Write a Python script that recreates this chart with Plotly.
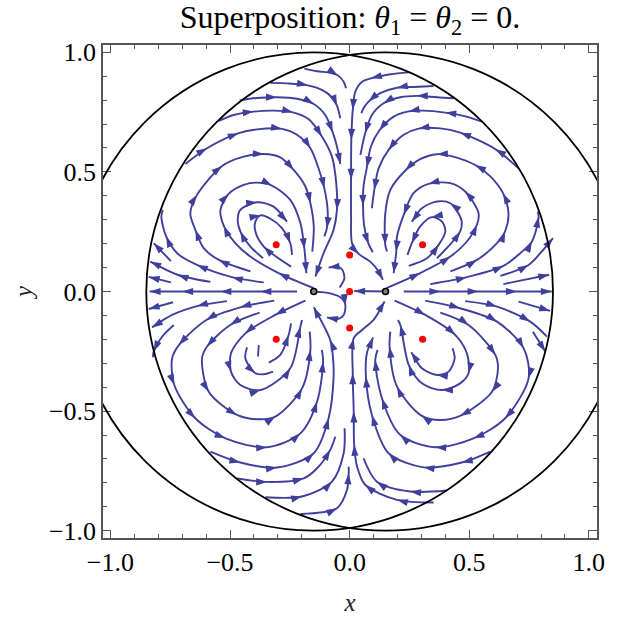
import math
import plotly.graph_objects as go

# circle centres (black points), unit radius
centers_x = [-0.15, 0.15]
centers_y = [0.0, 0.0]
circle_radius = 1.0
# red charges
red_x = [-0.307, 0.305, -0.307, 0.305, 0.0, 0.0, 0.0]
red_y = [0.195, 0.195, -0.2, -0.2, 0.153, 0.0, -0.153]

# streamlines in flow order; *_t = indices of points carrying an arrow tip
a1_x = [-.189,-.136,-.081,-.050,-.025,-.015]
a1_y = [.932,.921,.914,.904,.877,.850]
a1_t = [3]
a2_x = [-.331,-.262,-.175,-.116,-.074,-.053,-.039]
a2_y = [.872,.870,.862,.843,.812,.777,.724]
a2_t = [2,5]
a3_x = [-.460,-.387,-.304,-.220,-.150,-.102,-.071,-.053,-.039]
a3_y = [.799,.809,.812,.806,.784,.738,.666,.606,.533]
a3_t = [2,4,6,8]
a4_x = [-.547,-.485,-.401,-.318,-.237,-.171,-.116,-.074,-.056,-.053,-.067,-.109,-.143]
a4_y = [.713,.738,.752,.756,.749,.720,.648,.564,.453,.341,.258,.160,.063]
a4_t = [2,4,6,9,12]
a5_x = [-.687,-.596,-.464,-.387,-.283,-.220,-.164,-.130,-.106,-.092,-.095,-.106]
a5_y = [.533,.599,.662,.678,.680,.655,.599,.515,.432,.341,.265,.230]
a5_t = [1,2,4,6,8,10]
a6_x = [-.415,-.547,-.610,-.645,-.666,-.638,-.533,-.443,-.359,-.290,-.234,-.185,-.164,-.150,-.156]
a6_y = [.084,.132,.181,.258,.327,.404,.525,.564,.575,.561,.508,.439,.369,.272,.167]
a6_t = [1,3,5,6,8,10,12]
a7_x = [-.150,-.297,-.415,-.478,-.526,-.540,-.506,-.443,-.387,-.325,-.248,-.206,-.189,-.181]
a7_y = [.014,.077,.146,.202,.274,.341,.408,.446,.455,.443,.383,.286,.177,.077]
a7_t = [1,4,6,9,12,13]
a8_x = [-.362,-.415,-.457,-.468,-.457,-.387,-.318,-.262]
a8_y = [.139,.188,.251,.299,.341,.373,.355,.292]
a8_t = [2,5,7]
a9_x = [-.245,-.359,-.394,-.394,-.373,-.331,-.283,-.248,-.241]
a9_y = [.104,.188,.251,.292,.318,.304,.265,.202,.153]
a9_t = [1,4,7]
a10_x = [-.359,-.492,-.638,-.721,-.767,-.787,-.781]
a10_y = [.038,.060,.111,.160,.230,.313,.341]
a10_t = [1,2,4]
a11_x = [-.582,-.719,-.833]
a11_y = [.040,.070,.125]
a11_t = [1,2]
a12_x = [-.747,-.819]
a12_y = [.127,.202]
a12_t = [1]
a13_x = [-.747,-.840]
a13_y = [.038,.061]
a13_t = [1]
a14_x = [-.220,-.373,-.540,-.700,-.836]
a14_y = [0,0,0,0,0]
a14_t = [1,2,3,4]

b1_x = [.247,.170,.089,.052,.024,.013,.007,.006,.006,.010,.038,.086,.121,.139]
b1_y = [.916,.908,.891,.877,.836,.759,.634,.467,.299,.202,.157,.125,.084,.049]
b1_t = [2,5,6,7,10,13]
b2_x = [.351,.267,.198,.128,.079,.058,.049]
b2_y = [.859,.855,.852,.829,.794,.766,.745]
b2_t = [2,4]
b3_x = [.435,.365,.281,.212,.142,.093,.065,.045]
b3_y = [.808,.812,.818,.812,.787,.738,.662,.571]
b3_t = [2,4,6]
b4_x = [.553,.476,.400,.309,.247,.184,.124,.089,.072,.058,.056,.061,.079,.097]
b4_y = [.710,.734,.748,.756,.753,.731,.673,.606,.519,.439,.358,.272,.199,.164]
b4_t = [2,4,6,8,10,12]
b5_x = [.706,.609,.462,.379,.288,.226,.163,.121,.103,.093]
b5_y = [.515,.595,.664,.682,.681,.655,.592,.515,.425,.348]
b5_t = [1,2,4,6,8]
b6_x = [.421,.532,.616,.650,.664,.641,.588,.525,.448,.365,.295,.233,.170,.149,.149,.156]
b6_y = [.084,.132,.202,.251,.327,.411,.481,.529,.560,.574,.553,.506,.425,.327,.195,.167]
b6_t = [1,3,5,7,9,11,14]
b7_x = [.153,.295,.421,.490,.532,.539,.483,.421,.330,.267,.226,.198,.195,.184]
b7_y = [.014,.077,.146,.209,.279,.327,.418,.453,.450,.411,.320,.230,.167,.077]
b7_t = [1,2,4,6,8,10,12,13]
b8_x = [.365,.462,.467,.421,.365,.302,.260]
b8_y = [.139,.251,.299,.369,.376,.348,.292]
b8_t = [1,3,6]
b9_x = [.247,.323,.372,.400,.386,.344,.295,.260,.242]
b9_y = [.107,.139,.195,.251,.292,.311,.272,.202,.153]
b9_t = [2,5,7]
b10_x = [.337,.490,.643,.713,.762,.790,.786]
b10_y = [.031,.060,.107,.160,.209,.313,.334]
b10_t = [1,2,4,5]
b11_x = [.630,.748,.797,.850]
b11_y = [.065,.111,.160,.223]
b11_t = [1,3]
b12_x = [.643,.834]
b12_y = [.031,.070]
b12_t = [1]

c1_x = [-.149,-.081,-.032,-.018,-.025,-.053,-.095]
c1_y = [0,-.008,-.029,-.056,-.098,-.116,-.108]
c1_t = [3,6]
c2_x = [-.042,-.022,-.032,-.053,-.088]
c2_y = [.017,.055,.093,.104,.100]
c2_t = [4]
c3_x = [.153,.019]
c3_y = [0,.002]
c3_t = [1]

d1_x = [-.738,-.840]
d1_y = [-.045,-.073]
d1_t = [1]
d2_x = [-.513,-.638,-.742,-.826]
d2_y = [-.040,-.061,-.098,-.150]
d2_t = [1,3]
d3_x = [-.735,-.784,-.819,-.822]
d3_y = [-.140,-.189,-.251,-.275]
d3_t = [2]
d4_x = [-.315,-.457,-.599,-.714,-.742,-.733,-.645,-.519,-.345,-.206,-.136,-.111,-.116]
d4_y = [-.038,-.066,-.119,-.224,-.279,-.391,-.530,-.614,-.651,-.593,-.460,-.293,-.244]
d4_t = [1,2,3,5,6,7,8,9,10,11]
d5_x = [-.376,-.499,-.596,-.617,-.589,-.471,-.387,-.311,-.199,-.164,-.167]
d5_y = [-.088,-.140,-.230,-.279,-.419,-.516,-.534,-.523,-.405,-.244,-.168]
d5_t = [1,2,4,5,7,8,9]
d6_x = [-.185,-.311,-.436,-.496,-.496,-.457,-.373,-.248,-.206,-.199]
d6_y = [-.038,-.098,-.175,-.258,-.335,-.391,-.412,-.321,-.147,-.119]
d6_t = [1,2,4,6,7,8]
d7_x = [-.429,-.436,-.394,-.359,-.320]
d7_y = [-.233,-.279,-.342,-.346,-.335]
d7_t = [2]
d8_x = [-.383,-.380]
d8_y = [-.272,-.224]
d8_t = []
d9_x = [-.338,-.290,-.255,-.245]
d9_y = [-.297,-.265,-.182,-.133]
d9_t = [2]
d10_x = [-.582,-.457,-.304,-.150,-.088,-.067,-.070,-.081,-.150]
d10_y = [-.669,-.715,-.736,-.676,-.530,-.356,-.272,-.203,-.066]
d10_t = [1,2,3,4,7,8]
d11_x = [-.471,-.345,-.192,-.136,-.081,-.060]
d11_y = [-.781,-.796,-.781,-.739,-.662,-.607]
d11_t = [1,2,4]
d12_x = [-.352,-.199,-.074,-.025,-.021]
d12_y = [-.860,-.857,-.795,-.676,-.572]
d12_t = [1,2]
d13_x = [-.206,-.053,-.011,-.004,-.004]
d13_y = [-.930,-.906,-.829,-.760,-.732]
d13_t = [1,3]

e0_x = [.226,.379,.539,.699,.845]
e0_y = [0,0,0,0,0]
e0_t = [1,2,3,4]
e1_x = [.706,.838]
e1_y = [-.042,-.081]
e1_t = [1]
e2_x = [.483,.616,.755,.825]
e2_y = [-.040,-.063,-.126,-.189]
e2_t = [1,2]
e3_x = [.766,.818]
e3_y = [-.168,-.251]
e3_t = [1]
e4_x = [.316,.462,.616,.727,.748,.650,.518,.358,.212,.135,.107,.117]
e4_y = [-.038,-.070,-.126,-.237,-.363,-.530,-.614,-.651,-.600,-.446,-.286,-.244]
e4_t = [1,2,3,4,5,6,7,8,9,10]
e5_x = [.379,.497,.609,.620,.595,.462,.379,.302,.198,.167,.170]
e5_y = [-.088,-.140,-.265,-.321,-.419,-.520,-.537,-.520,-.398,-.231,-.168]
e5_t = [1,2,4,5,7,8,9]
e6_x = [.188,.316,.442,.490,.497,.462,.386,.302,.247,.212,.202]
e6_y = [-.038,-.098,-.182,-.258,-.342,-.384,-.412,-.384,-.307,-.140,-.119]
e6_t = [1,2,4,6,8,9]
e7_x = [.430,.439,.414,.365,.302,.258]
e7_y = [-.237,-.279,-.335,-.349,-.321,-.254]
e7_t = [3,5]
e8_x = [.588,.469,.309,.163,.093,.068,.072,.098]
e8_y = [-.669,-.715,-.735,-.676,-.516,-.356,-.258,-.192]
e8_t = [1,2,3,4,5,7]
e9_x = [.407,.253,.114,.058]
e9_y = [-.832,-.836,-.795,-.697]
e9_t = [1,2]
e10_x = [.351,.198,.065,.031,.019,.017,.013,.017,.052,.100,.146]
e10_y = [-.882,-.871,-.808,-.732,-.641,-.502,-.342,-.196,-.161,-.119,-.042]
e10_t = [1,2,4,5,6,7,10]

title_text = "Superposition: <i>θ</i><sub>1</sub> = <i>θ</i><sub>2</sub> = 0."
x_label = "<i>x</i>"
y_label = "<i>y</i>"

streams = [
    (a1_x,a1_y,a1_t),(a2_x,a2_y,a2_t),(a3_x,a3_y,a3_t),(a4_x,a4_y,a4_t),(a5_x,a5_y,a5_t),
    (a6_x,a6_y,a6_t),(a7_x,a7_y,a7_t),(a8_x,a8_y,a8_t),(a9_x,a9_y,a9_t),(a10_x,a10_y,a10_t),
    (a11_x,a11_y,a11_t),(a12_x,a12_y,a12_t),(a13_x,a13_y,a13_t),(a14_x,a14_y,a14_t),
    (b1_x,b1_y,b1_t),(b2_x,b2_y,b2_t),(b3_x,b3_y,b3_t),(b4_x,b4_y,b4_t),(b5_x,b5_y,b5_t),
    (b6_x,b6_y,b6_t),(b7_x,b7_y,b7_t),(b8_x,b8_y,b8_t),(b9_x,b9_y,b9_t),(b10_x,b10_y,b10_t),
    (b11_x,b11_y,b11_t),(b12_x,b12_y,b12_t),
    (c1_x,c1_y,c1_t),(c2_x,c2_y,c2_t),(c3_x,c3_y,c3_t),
    (d1_x,d1_y,d1_t),(d2_x,d2_y,d2_t),(d3_x,d3_y,d3_t),(d4_x,d4_y,d4_t),(d5_x,d5_y,d5_t),
    (d6_x,d6_y,d6_t),(d7_x,d7_y,d7_t),(d8_x,d8_y,d8_t),(d9_x,d9_y,d9_t),(d10_x,d10_y,d10_t),
    (d11_x,d11_y,d11_t),(d12_x,d12_y,d12_t),(d13_x,d13_y,d13_t),
    (e0_x,e0_y,e0_t),(e1_x,e1_y,e1_t),(e2_x,e2_y,e2_t),(e3_x,e3_y,e3_t),(e4_x,e4_y,e4_t),
    (e5_x,e5_y,e5_t),(e6_x,e6_y,e6_t),(e7_x,e7_y,e7_t),(e8_x,e8_y,e8_t),(e9_x,e9_y,e9_t),
    (e10_x,e10_y,e10_t),
]

STREAM_COLOR = "#3f3f9c"
SERIF = "Liberation Serif"

fig = go.Figure()
tip_x, tip_y, tip_angle = [], [], []
for sx, sy, tips in streams:
    fig.add_trace(go.Scatter(x=sx, y=sy, mode="lines",
                             line=dict(color=STREAM_COLOR, width=1.9, shape="spline", smoothing=0.85),
                             hoverinfo="skip", showlegend=False))
    n = len(sx)
    for i in tips:
        a, b = max(i - 1, 0), min(i + 1, n - 1)
        tip_x.append(sx[i])
        tip_y.append(sy[i])
        tip_angle.append(math.degrees(math.atan2(sx[b] - sx[a], sy[b] - sy[a])))

fig.add_trace(go.Scatter(x=tip_x, y=tip_y, mode="markers",
                         marker=dict(symbol="arrow", size=11.5, angle=tip_angle, color=STREAM_COLOR, line=dict(width=0)),
                         hoverinfo="skip", showlegend=False))
fig.add_trace(go.Scatter(x=red_x, y=red_y, mode="markers",
                         marker=dict(size=7, color="#ff0000", line=dict(width=0)),
                         hoverinfo="skip", showlegend=False))
fig.add_trace(go.Scatter(x=centers_x, y=centers_y, mode="markers",
                         marker=dict(size=6, color="#808080", line=dict(width=1.6, color="black")),
                         hoverinfo="skip", showlegend=False))

shapes = [dict(type="circle", xref="x", yref="y", x0=cx - circle_radius, x1=cx + circle_radius,
               y0=cy - circle_radius, y1=cy + circle_radius, line=dict(color="black", width=1.8), layer="above")
          for cx, cy in zip(centers_x, centers_y)]

axis_common = dict(
    showgrid=False, zeroline=False, showline=True, linecolor="#555555", linewidth=1.5, automargin=False,
    mirror="allticks", ticks="inside", ticklen=8, tickwidth=1, tickcolor="#555555",
    dtick=0.5, tick0=0, tickformat=".1f",
    minor=dict(ticks="inside", ticklen=4, dtick=0.1, tick0=0, tickwidth=1, tickcolor="#555555", showgrid=False),
    tickfont=dict(family=SERIF, size=26, color="black"),
)
fig.update_layout(
    width=621, height=617,
    margin=dict(l=103, r=24, t=45, b=79),
    paper_bgcolor="white", plot_bgcolor="white",
    shapes=shapes,
    title=dict(text=title_text, x=0.5, xref="paper", xanchor="center", y=0.972, yref="container", yanchor="middle",
               font=dict(family=SERIF, size=32, color="black")),
    xaxis=dict(range=[-1.031, 1.034], title=dict(text=x_label, standoff=18, font=dict(family=SERIF, size=25, color="#222")), **axis_common),
    yaxis=dict(range=[-1.0305, 1.0305], title=dict(text=y_label, standoff=9, font=dict(family=SERIF, size=25, color="#222")), **axis_common),
)
# remove the page body's default margin so the figure fills the window exactly
fig.write_html("out.html", post_script="document.body.style.margin='0';", config={"displayModeBar": False})
